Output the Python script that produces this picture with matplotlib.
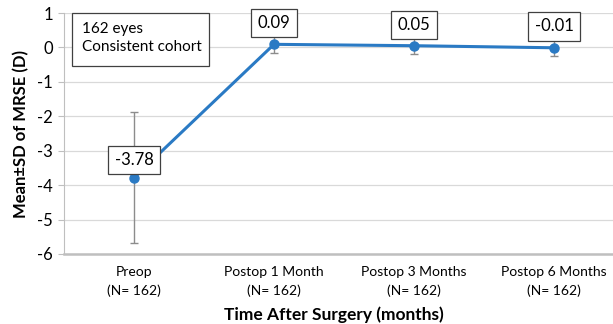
import matplotlib
matplotlib.use("Agg")
import matplotlib.pyplot as plt
from matplotlib.patches import Rectangle

categories = ["Preop\n(N= 162)", "Postop 1 Month\n(N= 162)", "Postop 3 Months\n(N= 162)", "Postop 6 Months\n(N= 162)"]
means = [-3.78, 0.09, 0.05, -0.01]
sds = [1.90, 0.25, 0.23, 0.25]
labels = ["-3.78", "0.09", "0.05", "-0.01"]
yticks = [1, 0, -1, -2, -3, -4, -5, -6]

plt.rcParams['font.family'] = ['Lato', 'DejaVu Sans']

fig = plt.figure(figsize=(6.13, 3.24), dpi=100)
ax = fig.add_axes([64/613, 1 - 254/324, 560/613, 241/324])

x = list(range(len(categories)))
ax.errorbar(x, means, yerr=sds, fmt='none', ecolor='#8c8c8c', elinewidth=1, capsize=3, capthick=1, zorder=2)
ax.plot(x, means, color='#2A7AC4', lw=2.2, marker='o', ms=6.5, zorder=3)

ax.set_xlim(-0.5, 3.5)
ax.set_ylim(-6, 1)
ax.set_yticks(yticks)
ax.set_yticklabels([str(v) for v in yticks], fontsize=12)
ax.set_xticks(x)
ax.set_xticklabels(categories, fontsize=10, linespacing=1.6)
ax.tick_params(axis='x', length=0, pad=9)
ax.tick_params(axis='y', length=4, color='#bfbfbf', pad=4)
ax.yaxis.grid(True, color='#d9d9d9', lw=0.9)
ax.set_axisbelow(True)
for s in ['top', 'right']:
    ax.spines[s].set_visible(False)
ax.spines['left'].set_color('#bfbfbf')
ax.spines['bottom'].set_color('#bfbfbf')
ax.spines['bottom'].set_linewidth(1.8)

offsets = [0.51, 0.62, 0.60, 0.62]
for xi, m, lab, dy in zip(x, means, labels, offsets):
    ax.text(xi, m + dy, lab, ha='center', va='center', fontsize=12,
            bbox=dict(boxstyle='square,pad=0.38', fc='white', ec='#404040', lw=0.9), zorder=4)

ax.add_patch(Rectangle((-0.443, -0.54), 0.979, 1.54, fc='white', ec='#404040', lw=0.9, zorder=4, clip_on=False))
ax.text(-0.371, 0.53, "162 eyes", ha='left', va='center', fontsize=11, zorder=5)
ax.text(-0.371, 0.01, "Consistent cohort", ha='left', va='center', fontsize=11, zorder=5)

ax.set_ylabel("Mean±SD of MRSE (D)", fontsize=12, fontweight='bold', labelpad=6)
fig.text(0.545, 0.03, "Time After Surgery (months)", ha='center', va='center', fontsize=12.5, fontweight='bold')

fig.savefig("out.png", dpi=100)
